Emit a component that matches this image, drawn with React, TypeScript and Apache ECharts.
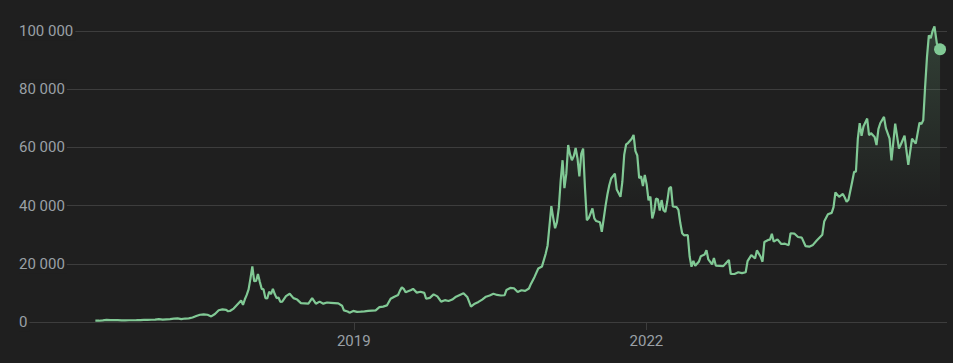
import React, { useEffect, useRef } from "react";
import * as echarts from "echarts";

const dates: string[] = [
  "2016-05-08","2016-05-22","2016-06-05","2016-06-19","2016-07-03","2016-07-17","2016-07-31","2016-08-14","2016-08-28","2016-09-11","2016-09-25","2016-10-09","2016-10-23","2016-11-06","2016-11-20","2016-12-04","2016-12-18",
  "2017-01-01","2017-01-15","2017-01-29","2017-02-12","2017-02-26","2017-03-12","2017-03-26","2017-04-09","2017-04-23","2017-05-07","2017-05-21","2017-06-04","2017-06-18","2017-07-02","2017-07-16","2017-07-30","2017-08-13","2017-08-27","2017-09-10","2017-09-17","2017-09-24","2017-10-08","2017-10-22","2017-11-05","2017-11-12","2017-11-19","2017-11-26","2017-12-03","2017-12-10","2017-12-17","2017-12-24","2017-12-31",
  "2018-01-07","2018-01-14","2018-01-21","2018-01-28","2018-02-04","2018-02-11","2018-02-18","2018-02-25","2018-03-04","2018-03-11","2018-03-18","2018-03-25","2018-04-01","2018-04-08","2018-04-22","2018-05-06","2018-05-20","2018-06-03","2018-06-17","2018-07-01","2018-07-15","2018-07-29","2018-08-12","2018-08-26","2018-09-09","2018-09-23","2018-10-07","2018-10-21","2018-11-04","2018-11-18","2018-11-25","2018-12-09","2018-12-16","2018-12-30",
  "2019-01-13","2019-01-27","2019-02-10","2019-02-24","2019-03-10","2019-03-24","2019-04-07","2019-04-21","2019-05-05","2019-05-19","2019-06-02","2019-06-16","2019-06-23","2019-06-30","2019-07-07","2019-07-14","2019-07-21","2019-08-04","2019-08-11","2019-08-25","2019-09-08","2019-09-22","2019-09-29","2019-10-13","2019-10-27","2019-11-10","2019-11-24","2019-12-08","2019-12-22",
  "2020-01-05","2020-01-19","2020-02-02","2020-02-16","2020-03-01","2020-03-15","2020-03-29","2020-04-12","2020-04-26","2020-05-10","2020-05-24","2020-06-07","2020-06-21","2020-07-05","2020-07-19","2020-07-26","2020-08-09","2020-08-23","2020-09-06","2020-09-20","2020-10-04","2020-10-18","2020-10-25","2020-11-08","2020-11-22","2020-12-06","2020-12-20","2020-12-27",
  "2021-01-03","2021-01-10","2021-01-17","2021-01-24","2021-01-31","2021-02-07","2021-02-14","2021-02-21","2021-02-28","2021-03-07","2021-03-14","2021-03-21","2021-03-28","2021-04-04","2021-04-11","2021-04-18","2021-04-25","2021-05-02","2021-05-09","2021-05-16","2021-05-23","2021-05-30","2021-06-13","2021-06-20","2021-06-27","2021-07-11","2021-07-18","2021-07-25","2021-08-01","2021-08-08","2021-08-15","2021-08-22","2021-09-05","2021-09-12","2021-09-26","2021-10-03","2021-10-10","2021-10-17","2021-10-24","2021-11-07","2021-11-14","2021-11-21","2021-11-28","2021-12-05","2021-12-12","2021-12-19","2021-12-26",
  "2022-01-02","2022-01-09","2022-01-16","2022-01-23","2022-01-30","2022-02-06","2022-02-13","2022-02-20","2022-02-27","2022-03-06","2022-03-13","2022-03-20","2022-03-27","2022-04-03","2022-04-10","2022-04-24","2022-05-01","2022-05-08","2022-05-15","2022-05-22","2022-06-05","2022-06-12","2022-06-19","2022-06-26","2022-07-03","2022-07-17","2022-07-24","2022-08-07","2022-08-14","2022-08-21","2022-09-04","2022-09-11","2022-09-18","2022-10-02","2022-10-16","2022-10-30","2022-11-06","2022-11-13","2022-11-27","2022-12-11","2022-12-25",
  "2023-01-08","2023-01-15","2023-01-29","2023-02-12","2023-02-19","2023-03-05","2023-03-12","2023-03-19","2023-04-02","2023-04-09","2023-04-16","2023-04-23","2023-05-07","2023-05-21","2023-06-04","2023-06-18","2023-06-25","2023-07-09","2023-07-23","2023-08-06","2023-08-20","2023-09-03","2023-09-17","2023-10-01","2023-10-22","2023-10-29","2023-11-12","2023-11-26","2023-12-03","2023-12-10","2023-12-24",
  "2024-01-07","2024-01-14","2024-01-21","2024-01-28","2024-02-11","2024-02-18","2024-02-25","2024-03-03","2024-03-10","2024-03-17","2024-03-24","2024-04-07","2024-04-14","2024-04-21","2024-05-05","2024-05-12","2024-05-19","2024-05-26","2024-06-09","2024-06-16","2024-06-30","2024-07-07","2024-07-21","2024-08-04","2024-08-11","2024-08-25","2024-09-08","2024-09-22","2024-10-06","2024-10-20","2024-10-27","2024-11-03","2024-11-10","2024-11-17","2024-11-24","2024-12-01","2024-12-08","2024-12-15","2024-12-24","2025-01-05"
];

const prices: number[] = [
  455,440,575,760,675,665,625,570,575,605,600,615,655,710,730,765,790,
  1000,820,920,1000,1180,1230,970,1190,1250,1560,2050,2500,2590,2500,1930,2750,4050,4350,4150,3700,3780,4600,6000,7400,5900,7800,9300,11200,15000,19100,14000,14100,
  16500,13800,11400,11200,8200,8100,10400,9600,11400,9600,8200,8400,6900,7000,8900,9700,8200,7700,6500,6400,6300,8200,6300,7000,6300,6700,6600,6500,6400,5600,4000,3600,3200,3800,
  3500,3550,3650,3800,3900,4000,5100,5300,5700,8000,8700,9300,10800,11900,11400,10200,10500,11000,11400,10100,10400,10000,8000,8300,9500,8800,7000,7500,7200,
  7700,8700,9300,9900,8600,5300,6300,6900,7700,8700,9100,9700,9300,9100,9200,11000,11700,11600,10300,10900,10700,11500,13000,15500,18400,19100,23500,26300,
  33000,39800,35800,32200,34300,39200,48600,55600,46000,50900,60800,57600,55600,57000,59800,56200,50000,57800,59600,46000,35000,35700,39000,35600,34700,34300,31000,35400,39900,43800,47000,49300,51000,45500,43000,48200,57500,61000,61500,63000,64300,58700,57200,49400,50100,46700,50500,
  47300,41800,43100,35600,37900,42400,42200,38300,41900,38400,37800,41300,45900,46400,39700,39500,38500,34000,30500,29800,29900,22500,19000,21000,19300,20800,22600,23200,24700,21500,19800,22000,19400,19300,19200,20600,21300,16500,16500,17100,16800,
  17100,20900,23000,21800,24600,22400,20700,27500,28200,28300,30300,27600,28400,26800,26900,26400,30500,30400,29200,29000,26100,25900,26500,28000,30000,34500,37000,37500,39500,44500,43000,
  44000,42800,41300,42000,48300,51600,51700,63000,68300,64000,67200,69900,64200,64900,63600,60800,66300,68300,70500,66600,63000,55500,68200,59600,61000,64000,54000,63000,61300,68500,68000,69300,80800,91000,98500,97500,100000,101600,95700,93700
];

const yTicks: number[] = [0, 20000, 40000, 60000, 80000, 100000];
const xLabelDates: string[] = ["2019-01-01", "2022-01-01"];
const xRange: string[] = ["2015-07-27", "2025-01-31"];

const LINE = "#81c995";
const BG = "#1f1f1f";
const GRID = "#3d3d3d";
const TEXT = "#9aa0a6";

const ts = (d: string) => new Date(d + "T00:00:00Z").getTime();

export default function App() {
  const ref = useRef<HTMLDivElement>(null);
  useEffect(() => {
    if (!ref.current) return;
    const chart = echarts.init(ref.current, undefined, { renderer: "svg" });
    const seriesData = dates.map((d, i) => [ts(d), prices[i]]);
    const last = seriesData[seriesData.length - 1];
    const xTicks = xLabelDates.map(ts);
    chart.setOption({
      animation: false,
      backgroundColor: BG,
      grid: { left: 19, right: 6, top: 31, bottom: 41, containLabel: false },
      xAxis: {
        type: "value",
        min: ts(xRange[0]),
        max: ts(xRange[1]),
        axisLine: { show: false },
        splitLine: { show: false },
        axisTick: {
          show: true,
          customValues: xTicks,
          length: 8,
          lineStyle: { color: GRID, width: 1 },
        },
        axisLabel: {
          customValues: xTicks,
          formatter: (v: number) => String(new Date(v).getUTCFullYear()),
          color: TEXT,
          fontSize: 15,
          fontFamily: "Roboto, Arial, sans-serif",
          margin: 11,
        },
      },
      yAxis: {
        type: "value",
        min: 0,
        max: 100000,
        interval: 20000,
        axisLine: { show: false },
        axisTick: { show: false },
        splitLine: { show: true, lineStyle: { color: GRID, width: 1 } },
        axisLabel: {
          inside: true,
          margin: 0,
          align: "left",
          verticalAlign: "middle",
          color: TEXT,
          fontSize: 15,
          fontFamily: "Roboto, Arial, sans-serif",
          backgroundColor: BG,
          padding: [2, 2, 2, 0],
          formatter: (v: number) =>
            yTicks.includes(v) ? String(v).replace(/\B(?=(\d{3})+(?!\d))/g, " ") : "",
        },
      },
      series: [
        {
          type: "line",
          data: seriesData,
          showSymbol: false,
          clip: false,
          lineStyle: { color: LINE, width: 2.2 },
          itemStyle: { color: LINE },
          areaStyle: {
            color: new echarts.graphic.LinearGradient(0, 0, 0, 1, [
              { offset: 0, color: "rgba(129,201,149,0.28)" },
              { offset: 0.62, color: "rgba(129,201,149,0)" },
            ]),
          },
          z: 3,
        },
        {
          type: "scatter",
          data: [last],
          symbolSize: 12,
          itemStyle: { color: LINE, opacity: 1 },
          clip: false,
          z: 4,
        },
      ],
    });
    return () => chart.dispose();
  }, []);
  return (
    <div
      ref={ref}
      style={{ position: "fixed", left: 0, top: 0, width: 953, height: 363 }}
    />
  );
}
